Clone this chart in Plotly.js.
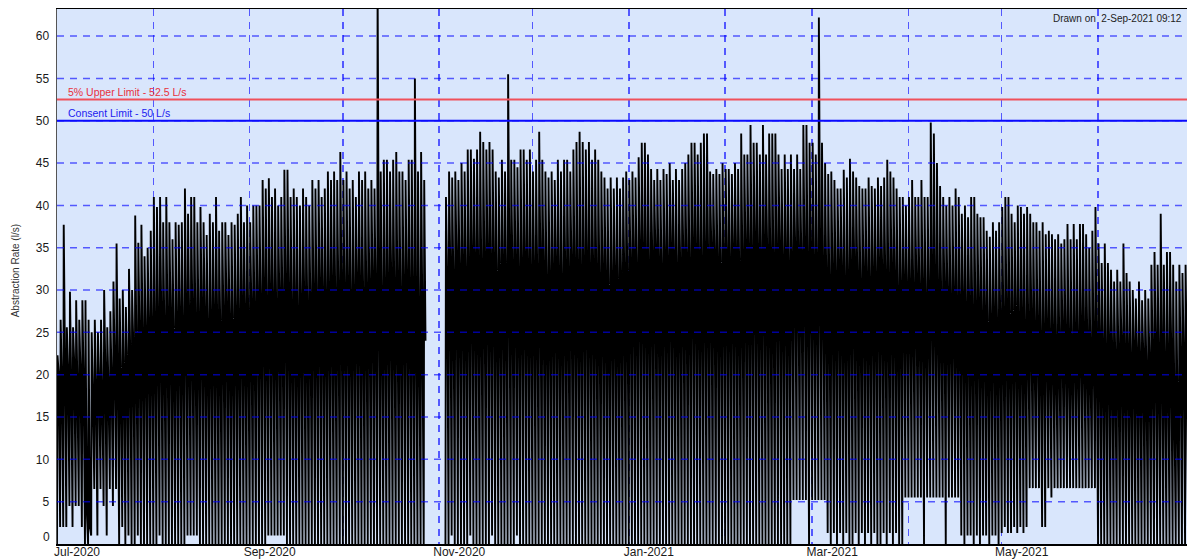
<!DOCTYPE html>
<html>
<head>
<meta charset="utf-8">
<script src="https://cdn.plot.ly/plotly-3.0.1.min.js"></script>
<style>html,body{margin:0;padding:0;background:#fff;}#chart{width:1188px;height:560px;}</style>
</head>
<body>
<div id="chart"></div>
<script>
// Daily readings of the abstraction rate (l/s), 1-Jul-2020 .. 30-Jun-2021, one line per month
const dailyPeak = [
  22.3,26.5,37.7,25.6,29.8,25.6,28.8,26.5,28.8,28.8,26.5,25,26.5,25,26.5,30,25.6,27.5,31,35.5,29,30,28,32.5,30,38.8,35.6,37.7,34,35,37,
  41,39.8,41,38,41,38,36,38,37.7,38,42,39,41,41,38,39.8,38,36.5,39,38,41,37,38,38,36.5,38,37.7,39,41,38,40,
  38,40,40,40,43,42,43.2,41,42,40,41,44.2,44.2,41,42,41,40,42,41,40,43,42,43,41,42,44,43,44,43,46.3,
  43,44,42,43,41,44,43,44,42,43,42,66,44,45.4,45.4,44,45.4,46.3,44,44,43,45.4,45.4,55,44,46.3,43,null,null,null,null,
  null,null,41,44,43.3,44,43,45,44,46.6,46.6,45.5,46.6,48.7,47.5,46.6,47.5,46.6,44,43.3,45.4,44,55.5,45.4,45.4,44.5,46.6,46.6,45.4,46.6,
  44,45.4,48.7,45.4,44,43.3,44,43,45.4,44,45.4,45.4,44,46.6,47.5,48.7,47.5,46.6,47.5,45.4,46.6,45.4,44,43.3,42,43.3,42,43.3,42,43.3,44,
  43,44,43.3,45.7,47.4,47.4,46,44.3,43,44.3,43,44.3,43.7,45,43,44.3,43,44.3,45,46,47.4,47.4,46,47.4,48.5,48.5,44,43.7,44.3,43.7,45,
  44.3,44.3,43.7,45,44.3,48.5,46,46,49.5,47.4,47.4,46,49.5,46,48.5,48.5,48.5,46,44.3,46,44.3,46,44.3,46,44.3,49.5,49.5,47.4,
  47.4,46,62.2,47.4,45,43.7,44,43,42,42,44.2,43.3,45.5,44,43.3,42.3,42,42,43.3,42.3,42,43.3,42.3,43.3,45.4,44,43.3,42,41,41,40,
  41,43,41,41,43,41,41,49.8,48.5,45,42.3,41,40,41,40,42,41,39,40,38.6,41,41,39,38.6,38.6,37,36.3,38,37,38,
  39.8,41,41,39,38,40,39.8,39,39.8,39,38,38,37,38,36.6,37,36.6,36,36.6,35.5,36,37.8,36,37.8,36,37.8,37.8,36.6,35,37,39.8,
  35.5,33.2,35.5,33.2,32.4,31,32.4,31,35.5,32,31,30,29,31,28.8,30,29,33,34.5,33,39,33,34.5,34.5,33,31,33,32,33,31
];
const dailyBase = [
  20,19,21,20,19,21,18,20,19,4,2,17,18,19,17,20,18,19,21,20,19,20,21,22,23,22,24,23,24,25,24,
  24,25,26,24,25,26,23,25,26,24,27,25,26,24,25,27,26,24,25,26,25,24,26,27,25,24,26,25,27,26,25,
  27,26,28,27,29,26,28,27,26,28,27,29,28,26,27,25,27,28,26,27,28,27,29,28,27,28,29,27,28,29,
  28,29,27,28,30,29,27,28,29,30,28,29,27,28,29,30,28,29,27,29,30,28,27,26,25,26,24,null,null,null,null,
  null,null,31,32,30,33,31,32,30,31,33,32,31,30,32,33,31,32,30,31,32,30,33,31,32,30,31,32,31,30,
  31,30,32,31,29,30,31,32,30,29,31,30,32,31,30,29,31,32,30,31,30,29,31,30,28,30,31,29,30,31,30,
  32,33,31,34,33,32,31,33,34,32,31,33,32,34,33,31,32,33,32,31,34,33,32,31,33,32,34,33,32,31,33,
  33,32,34,33,31,32,34,33,32,35,33,32,34,33,32,31,33,34,32,33,31,32,34,33,32,33,31,33,
  31,30,32,31,30,29,31,30,32,31,29,30,31,32,30,29,31,30,29,31,30,32,31,30,29,31,30,28,29,30,29,
  29,28,30,28,29,27,28,30,29,28,27,29,28,27,28,26,27,28,26,27,25,26,27,25,26,24,25,26,24,25,
  25,26,24,25,26,24,25,23,24,25,23,24,22,23,24,22,23,21,22,24,23,22,21,23,22,24,23,22,21,23,22,
  23,22,21,23,22,21,22,23,21,22,21,23,22,21,22,20,21,22,23,21,22,20,21,22,16,15.5,21,22,20,21
];
const dailyLow = [
  0,2,2,2,4.5,2,4.5,4.5,2,0,0,1,6.5,1,6.5,4.5,1,6.5,4.5,6.5,0,2,0,1,0,0,1,0,0,0,0,
  0,0,1,0,0,0,0,0,0,0,0,1,1,1,1,0,0,0,0,0,0,0,0,0,0,0,0,0,0,0,0,
  0,0,0,0,0,0,1,1,1,1,1,1,0,0,0,0,0,0,0,0,0,0,0,0,0,0,0,0,0,0,
  0,0,0,0,0,0,0,0,0,0,0,0,0,0,0,0,0,0,0,0,0,0,0,0,0,0,0,null,null,null,null,
  null,null,0,0,1,0,0,0,0,0,1,0,0,0,0,0,0,1,0,0,0,0,0,0,0,1,0,0,0,0,
  0,0,0,0,0,0,0,0,0,0,0,0,0,0,0,0,0,0,0,0,0,0,0,0,0,0,0,0,0,0,0,
  0,0,0,0,0,0,0,0,0,0,0,0,0,0,0,0,0,0,0,0,0,0,0,0,0,0,0,0,0,0,0,
  0,0,0,0,0,0,0,0,0,0,0,0,0,0,0,0,0,0,0,0,0,0,5.2,5.2,5.2,5.2,5.2,0,
  5.2,5.2,5.2,5.2,5.2,1.3,0,1.3,0,1.3,0,1.3,0,0,1.3,0,1.3,0,1.3,0,1.3,0,0,1.3,0,1.3,0,1.3,0,0,5.5,
  5.5,5.5,5.5,5.5,5.5,0,5.5,5.5,5.5,5.5,5.5,5.5,0,5.5,5.5,5.5,5.5,1,0,1,1,0,1,0,1,1,0,1,1,0,
  1.3,2,1.3,1.3,2,1.3,2,1.3,2,6.6,6.6,6.6,6.6,2,2,6.6,5.5,6.6,6.6,6.6,6.6,6.6,6.6,6.6,6.6,6.6,6.6,6.6,6.6,6.6,6.6,
  0,0,0,0,0,0,0,0,0,0,0,0,0,0,0,0,0,0,0,0,0,0,0,0,0,0,0,0,0,0
];
// Reading times within each day (hours): low, peak, base
const readingHours = [0, 4, 14];

const monthStarts = ['2020-07-01','2020-08-01','2020-09-01','2020-10-01','2020-11-01','2020-12-01',
                     '2021-01-01','2021-02-01','2021-03-01','2021-04-01','2021-05-01','2021-06-01'];
const monthLabels = ['Jul-2020','','Sep-2020','','Nov-2020','','Jan-2021','','Mar-2021','','May-2021',''];
const yTicks = [5,10,15,20,25,30,35,40,45,50,55,60];
const consentLimit = 50;
const upperLimit = 52.5;

const startMs = Date.UTC(2020, 6, 1);
const DAY = 864e5, HOUR = 36e5;
const xs = [], ys = [];
for (let d = 0; d < dailyPeak.length; d++) {
  const t0 = startMs + d * DAY;
  if (dailyPeak[d] === null) { xs.push(t0); ys.push(null); continue; }
  const vals = [dailyLow[d], dailyPeak[d], dailyBase[d]];
  for (let k = 0; k < 3; k++) { xs.push(t0 + readingHours[k] * HOUR); ys.push(vals[k]); }
}

const gridColor = 'rgba(0,0,255,0.62)';
const shapes = yTicks.map(v => ({
  type: 'line', xref: 'paper', x0: 0, x1: 1, yref: 'y', y0: v, y1: v,
  line: {color: gridColor, width: 1.5, dash: '7px,6px'}, layer: 'above'
}));
shapes.push({type:'line', xref:'paper', x0:0, x1:1, yref:'y', y0:upperLimit, y1:upperLimit,
  line:{color:'#F0505A', width:2}, layer:'above'});
shapes.push({type:'line', xref:'paper', x0:0, x1:1, yref:'y', y0:consentLimit, y1:consentLimit,
  line:{color:'#0A0AFF', width:1.8}, layer:'above'});

const FONT = 'Liberation Sans, Arial, sans-serif';
const layout = {
  width: 1188, height: 560,
  margin: {l: 57, r: 1, t: 9, b: 16, pad: 0},
  paper_bgcolor: '#ffffff',
  plot_bgcolor: '#D9E6FC',
  showlegend: false,
  font: {family: FONT, size: 12, color: '#1a1a1a'},
  xaxis: {
    type: 'date',
    range: ['2020-07-01', '2021-06-29 15:00'],
    tickvals: monthStarts, ticktext: monthLabels,
    ticks: '', ticklabelshift: 20, ticklabelstandoff: -4,
    showgrid: true, gridcolor: gridColor, gridwidth: 1.5, griddash: '7px,6px',
    showline: true, mirror: true, linecolor: '#000', linewidth: 1.5,
    zeroline: false, fixedrange: true,
    tickfont: {family: FONT, size: 12, color: '#1a1a1a'}
  },
  yaxis: {
    range: [0, 63.2],
    tickvals: yTicks,
    ticks: '', ticklabelstandoff: 4,
    showgrid: false, zeroline: false,
    showline: true, linecolor: '#555', linewidth: 1.5,
    fixedrange: true,
    tickfont: {family: FONT, size: 12, color: '#1a1a1a'}
  },
  shapes: shapes,
  annotations: [
    {text: '0', xref: 'paper', x: 0, xanchor: 'right', xshift: -5, yref: 'y', y: 0, yanchor: 'middle', yshift: 7,
     showarrow: false, font: {family: FONT, size: 12, color: '#1a1a1a'}},
    {text: 'Abstraction Rate (l/s)', xref: 'paper', x: -0.037, xanchor: 'center', yref: 'paper', y: 0.51, yanchor: 'middle',
     textangle: -90, showarrow: false, font: {family: FONT, size: 10, color: '#333'}},
    {text: '5% Upper Limit - 52.5 L/s', xref: 'paper', x: 0.008, xanchor: 'left', yref: 'y', y: upperLimit, yanchor: 'bottom', yshift: 0,
     showarrow: false, font: {family: FONT, size: 10.5, color: '#E8303C'}},
    {text: 'Consent Limit - 50 L/s', xref: 'paper', x: 0.008, xanchor: 'left', yref: 'y', y: consentLimit, yanchor: 'bottom', yshift: 0,
     showarrow: false, font: {family: FONT, size: 10.5, color: '#2020F0'}},
    {text: 'Drawn on  2-Sep-2021 09:12', xref: 'paper', x: 1, xanchor: 'right', xshift: -3, yref: 'paper', y: 1, yanchor: 'top', yshift: -2,
     showarrow: false, font: {family: FONT, size: 10, color: '#222'}}
  ]
};

const trace = {
  type: 'scatter', mode: 'lines', x: xs, y: ys,
  line: {color: '#000000', width: 1.9, simplify: false},
  connectgaps: false, hoverinfo: 'skip'
};

Plotly.newPlot('chart', [trace], layout, {staticPlot: true, displayModeBar: false});
</script>
</body>
</html>
